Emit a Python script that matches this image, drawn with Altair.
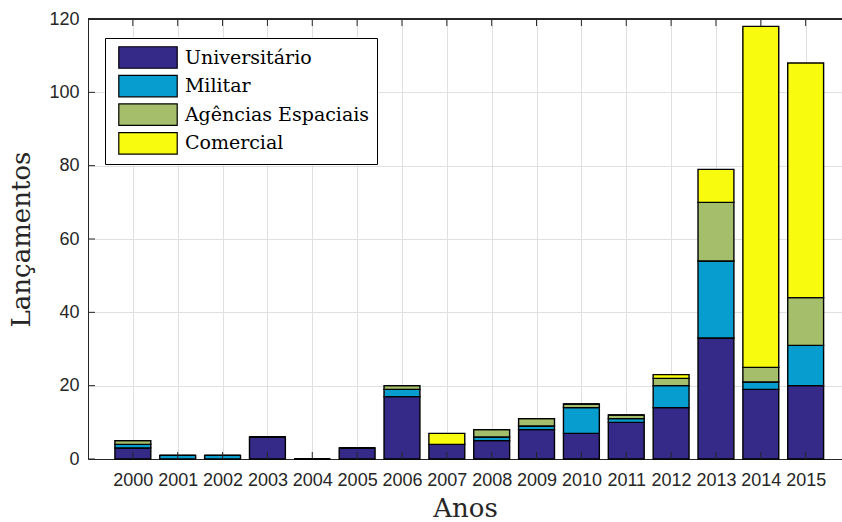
import altair as alt
import pandas as pd

years = list(range(2000, 2016))
universitario = [3, 0, 0, 6, 0, 3, 17, 4, 5, 8, 7, 10, 14, 33, 19, 20]
militar = [1, 1, 1, 0, 0, 0, 2, 0, 1, 1, 7, 1, 6, 21, 2, 11]
agencias = [1, 0, 0, 0, 0, 0, 1, 0, 2, 2, 1, 1, 2, 16, 4, 13]
comercial = [0, 0, 0, 0, 0, 0, 0, 3, 0, 0, 0, 0, 1, 9, 93, 64]
categories = ["Universitário", "Militar", "Agências Espaciais", "Comercial"]
colors = ["#352a87", "#079dcf", "#a5be6b", "#f9fb0e"]
y_ticks = [0, 20, 40, 60, 80, 100, 120]

rows = []
for i, y in enumerate(years):
    for k, (cat, vals) in enumerate(zip(categories, [universitario, militar, agencias, comercial])):
        rows.append({"ano": y, "cat": cat, "ordem": k, "valor": vals[i]})
df = pd.DataFrame(rows)

W, H = 754, 440
xscale = alt.Scale(domain=[1999, 2015.81], nice=False, zero=False)
yscale = alt.Scale(domain=[0, 120], nice=False)

bars = alt.Chart(df).transform_stack(
    stack="valor", as_=["y0", "y1"], groupby=["ano"], sort=[alt.SortField("ordem")]
).transform_calculate(
    xa="datum.ano - 0.4", xb="datum.ano + 0.4"
).mark_rect(stroke="black", strokeWidth=1.4).encode(
    x=alt.X("xa:Q", scale=xscale, axis=alt.Axis(
        values=years, format="d", title="Anos", grid=True, gridColor="#e0e0e0",
        ticks=False, tickSize=0, labelFont="Liberation Sans", labelFontSize=18,
        labelColor="#262626", labelPadding=12, domainColor="#262626",
        titleFont="DejaVu Serif", titleFontSize=26, titleFontWeight="normal",
        titleColor="#262626", titlePadding=6, labelFlush=False)),
    x2="xb:Q",
    y=alt.Y("y0:Q", scale=yscale, axis=alt.Axis(
        values=y_ticks, title="Lançamentos", grid=True, gridColor="#e0e0e0",
        ticks=False, tickSize=0, labelFont="Liberation Sans", labelFontSize=18,
        labelColor="#262626", labelPadding=9, domainColor="#262626",
        titleFont="DejaVu Serif", titleFontSize=26, titleFontWeight="normal",
        titleColor="#262626", titlePadding=14)),
    y2="y1:Q",
    color=alt.Color("cat:N", scale=alt.Scale(domain=categories, range=colors), legend=alt.Legend(
        title=None, orient="none", legendX=17, legendY=19,
        symbolType="M-2.5,-0.92L2.5,-0.92L2.5,0.92L-2.5,0.92Z", symbolSize=546,
        symbolStrokeColor="black", symbolStrokeWidth=1.2, symbolOpacity=1,
        symbolOffset=23.5, labelOffset=24.4, labelLimit=400,
        labelFont="DejaVu Serif", labelFontSize=19, labelColor="black",
        strokeColor="black", fillColor="white", padding=7, rowPadding=1.6)),
)

ydf = pd.DataFrame({"v": y_ticks})
xdf = pd.DataFrame({"v": years})

yt = alt.Chart(ydf).mark_rule(color="#262626", strokeWidth=1).encode(
    y=alt.Y("v:Q", scale=yscale), x=alt.value(0), x2=alt.value(7))
xt_bot = alt.Chart(xdf).mark_rule(color="#262626", strokeWidth=1).encode(
    x=alt.X("v:Q", scale=xscale), y=alt.value(H), y2=alt.value(H - 7))
xt_top = alt.Chart(xdf).mark_rule(color="#262626", strokeWidth=1).encode(
    x=alt.X("v:Q", scale=xscale), y=alt.value(0), y2=alt.value(7))
top_line = alt.Chart(ydf).mark_rule(color="#262626", strokeWidth=1).encode(
    x=alt.value(0), x2=alt.value(W), y=alt.value(0))

chart = alt.layer(bars, yt, xt_bot, xt_top, top_line).properties(
    width=W, height=H,
    padding={"left": 88, "top": 19, "right": 0, "bottom": 63},
    autosize=alt.AutoSizeParams(type="none"),
).configure_view(stroke=None).configure_axis(domainWidth=1)

chart.save("out.html", embed_options={"renderer": "svg", "actions": False})
